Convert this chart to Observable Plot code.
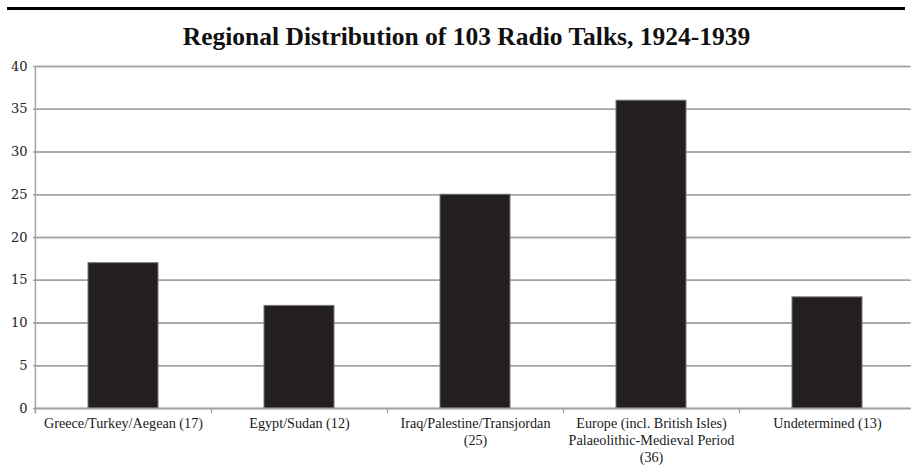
<!DOCTYPE html>
<html>
<head>
<meta charset="utf-8">
<script src="https://cdn.jsdelivr.net/npm/d3@7"></script>
<script src="https://cdn.jsdelivr.net/npm/@observablehq/plot@0.6"></script>
<style>
  html, body { margin: 0; padding: 0; background: #fff; }
  #wrap { position: relative; width: 911px; height: 472px; overflow: hidden; }
  #rule { position: absolute; left: 7px; top: 7px; width: 898px; height: 3px; background: #000; }
  #title { position: absolute; left: 11px; top: 22px; width: 911px; text-align: center;
           font-family: "Liberation Serif", serif; font-weight: bold; font-size: 25.5px; line-height: 30px; color: #111; }
  #chart { position: absolute; left: 0; top: 56px; }
</style>
</head>
<body>
<div id="wrap">
  <div id="rule"></div>
  <div id="title">Regional Distribution of 103 Radio Talks, 1924-1939</div>
  <div id="chart"></div>
</div>
<script>
const categories = [
  "Greece/Turkey/Aegean (17)",
  "Egypt/Sudan (12)",
  "Iraq/Palestine/Transjordan\n(25)",
  "Europe (incl. British Isles)\nPalaeolithic-Medieval Period\n(36)",
  "Undetermined (13)"
];
const values = [17, 12, 25, 36, 13];
const yTicks = [0, 5, 10, 15, 20, 25, 30, 35, 40];

const data = categories.map((c, i) => ({category: c, value: values[i]}));

const xRange = [35, 916];
const step = (xRange[1] - xRange[0]) / categories.length;
const grey = "#a3a3a3";

const chart = Plot.plot({
  width: 911,
  height: 416,
  marginTop: 10,
  marginBottom: 64,
  marginLeft: 35,
  marginRight: 0,
  style: {background: "transparent", overflow: "hidden", fontFamily: "Liberation Serif", fontSize: "14px", color: "#1a1a1a"},
  x: {domain: categories, range: xRange, paddingInner: 0.6, paddingOuter: 0.3, axis: null},
  y: {domain: [0, 40], axis: null},
  marks: [
    Plot.gridY(yTicks, {stroke: grey, strokeWidth: 1.5, strokeOpacity: 1}),
    Plot.tickY(yTicks, {y: d => d, frameAnchor: "left", dx: -2, stroke: grey, strokeWidth: 1.5}),
    Plot.text(yTicks, {y: d => d, text: d => String(d), frameAnchor: "left", dx: -8, textAnchor: "end",
      fontFamily: "DejaVu Serif", fontSize: 13, fill: "#222"}),
    Plot.ruleX([0], {x: () => categories[0], dx: -step / 2, y1: -0.6, y2: 40, stroke: grey, strokeWidth: 1.5}),
    Plot.ruleX(categories, {x: d => d, dx: -step / 2, y1: -0.6, y2: 0, stroke: grey, strokeWidth: 1.2}),
    Plot.barY(data, {x: "category", y: "value", fill: "#231f20", stroke: "#777", strokeWidth: 1}),
    Plot.ruleY([0], {stroke: grey, strokeWidth: 1.5}),
    Plot.text(data, {x: "category", y: 0, text: "category", lineAnchor: "top", dy: 8,
      fontFamily: "Liberation Serif", fontSize: 14.2, lineHeight: 1.18, fill: "#1a1a1a"})
  ]
});
document.getElementById("chart").appendChild(chart);
</script>
</body>
</html>
